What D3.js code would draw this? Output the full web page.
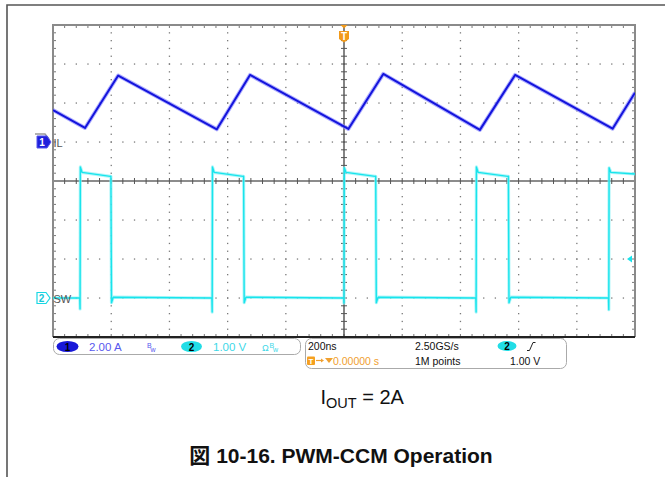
<!DOCTYPE html>
<html><head><meta charset="utf-8">
<script src="https://cdn.jsdelivr.net/npm/d3@7"></script>
<style>body{margin:0;background:#fff}svg{display:block}text{font-family:"Liberation Sans",Arial,"Noto Sans CJK JP",sans-serif}</style>
</head><body><svg id="c" width="665" height="477"></svg>
<script>
// ---- data (time in ns, trigger at 0; 200 ns/div) ----
const ilTime = [-1000, -890, -776, -437, -323, 15, 135, 467, 588, 923, 1000];
const ilAmps = [1.64, 0.72, 3.41, 0.65, 3.44, 0.67, 3.49, 0.62, 3.44, 0.68, 2.53];
const swTime = [-1000, -908, -907, -906, -900, -803, -801, -799, -793,
                -454, -453, -452, -446, -347, -345, -343, -337,
                -1, 0, 1, 7, 107, 109, 111, 117,
                453, 454, 455, 461, 563, 565, 567, 573,
                909, 910, 911, 917, 1000];
const swVolts = [0.0, 0.0, -0.28, 3.36, 3.22, 3.12, 3.12, -0.12, 0.02,
                 0.0, -0.36, 3.36, 3.22, 3.12, 3.12, -0.12, 0.02,
                 0.0, -0.13, 3.34, 3.22, 3.12, 3.12, -0.12, 0.02,
                 0.0, -0.36, 3.36, 3.22, 3.12, 3.12, -0.12, 0.02,
                 0.0, -0.3, 3.34, 3.22, 3.18];
const ch1Label = ["1", "2.00 A"];
const ch2Label = ["2", "1.00 V"];
const horizLabels = ["200ns", "2.50GS/s", "1M points", "1.00 V", "0.00000 s"];
const traceNames = ["IL", "SW"];

const svg = d3.select("#c");
const L = 53, R = 635, T = 25, B = 337;
const gx = d3.scaleLinear([0, 10], [L, R]);
const gy = d3.scaleLinear([0, 8], [T, B]);
const x = d3.scaleLinear([-1000, 1000], [L, R]);
const yIL = d3.scaleLinear([-10, 6], [B, T]);   // 2 A/div, ground at 3rd division
const ySW = d3.scaleLinear([-1, 7], [B, T]);    // 1 V/div, ground at 7th division

// page frame
svg.append("path").attr("d", "M7,477V5H665").attr("fill", "none").attr("stroke", "#555").attr("stroke-width", 1.6);

// graticule dots
const g = svg.append("g");
const minorX = d3.range(0, 50.001, 1).map(d => d / 5);
const minorY = d3.range(0, 40.001, 1).map(d => d / 5);
for (let i = 1; i < 10; i++) {
  if (i === 5) continue;
  minorY.forEach(v => g.append("rect").attr("x", gx(i) - 0.6).attr("y", gy(v) - 0.6).attr("width", 1.3).attr("height", 1.3).attr("fill", "#7a7a7a"));
}
for (let j = 1; j < 8; j++) {
  if (j === 4) continue;
  minorX.forEach(v => g.append("rect").attr("x", gx(v) - 0.6).attr("y", gy(j) - 0.6).attr("width", 1.3).attr("height", 1.3).attr("fill", "#7a7a7a"));
}
// edge ticks
minorX.forEach(v => {
  g.append("line").attr("x1", gx(v)).attr("x2", gx(v)).attr("y1", T).attr("y2", T + 3).attr("stroke", "#777");
  g.append("line").attr("x1", gx(v)).attr("x2", gx(v)).attr("y1", B - 3).attr("y2", B).attr("stroke", "#777");
});
minorY.forEach(v => {
  g.append("line").attr("x1", L).attr("x2", L + 3).attr("y1", gy(v)).attr("y2", gy(v)).attr("stroke", "#777");
  g.append("line").attr("x1", R - 3).attr("x2", R).attr("y1", gy(v)).attr("y2", gy(v)).attr("stroke", "#777");
});
// center lines
g.append("line").attr("x1", L).attr("x2", R).attr("y1", gy(4)).attr("y2", gy(4)).attr("stroke", "#8c8c8c").attr("stroke-width", 2);
minorX.forEach(v => g.append("line").attr("x1", gx(v)).attr("x2", gx(v)).attr("y1", gy(4) - 3).attr("y2", gy(4) + 3).attr("stroke", "#555"));
g.append("line").attr("x1", gx(5)).attr("x2", gx(5)).attr("y1", T).attr("y2", B).attr("stroke", "#333").attr("stroke-width", 1.2);
minorY.forEach(v => g.append("line").attr("x1", gx(5) - 3).attr("x2", gx(5) + 3).attr("y1", gy(v)).attr("y2", gy(v)).attr("stroke", "#555"));
// border
g.append("path").attr("d", `M${L},${B}V${T}H${R}V${B}`).attr("fill", "none").attr("stroke", "#8a8a8a").attr("stroke-width", 2);
g.append("line").attr("x1", L).attr("x2", R).attr("y1", B).attr("y2", B).attr("stroke", "#222").attr("stroke-width", 2);
g.append("line").attr("x1", 330).attr("x2", 564).attr("y1", B + 2).attr("y2", B + 2).attr("stroke", "#bbb").attr("stroke-width", 1.5);

// traces
svg.append("clipPath").attr("id", "clp").append("rect").attr("x", L).attr("y", T).attr("width", R - L).attr("height", B - T);
const tr = svg.append("g").attr("clip-path", "url(#clp)");
const swLine = d3.line().x((d, i) => x(swTime[i])).y(d => ySW(d));
tr.append("path").attr("d", swLine(swVolts)).attr("fill", "none").attr("stroke", "#8ff2f6").attr("stroke-width", 3.2).attr("stroke-opacity", 0.7).attr("stroke-linejoin", "round");
tr.append("path").attr("d", swLine(swVolts)).attr("fill", "none").attr("stroke", "#18e4ec").attr("stroke-width", 1.4).attr("stroke-linejoin", "round");
const ilLine = d3.line().x((d, i) => x(ilTime[i])).y(d => yIL(d));
tr.append("path").attr("d", ilLine(ilAmps)).attr("fill", "none").attr("stroke", "#8c8cff").attr("stroke-width", 4).attr("stroke-opacity", 0.7).attr("stroke-linejoin", "round");
tr.append("path").attr("d", ilLine(ilAmps)).attr("fill", "none").attr("stroke", "#1414dc").attr("stroke-width", 2).attr("stroke-linejoin", "round");

// trigger marker (top)
const tx = x(0);
svg.append("path").attr("d", `M${tx - 3.5},${T}h7l-3.5,3.5z`).attr("fill", "#f29a1a");
svg.append("path").attr("d", `M${tx - 5},31h10v8l-5,3.5l-5,-3.5z`).attr("fill", "#f29a1a");
svg.append("text").attr("x", tx).attr("y", 40).attr("text-anchor", "middle").attr("font-size", 10).attr("font-weight", "bold").attr("fill", "#fff").text("T");
// trigger level arrow (right)
svg.append("path").attr("d", `M${R - 8},${ySW(1)}l5,-3.5v7z`).attr("fill", "#18e4ec");

// channel markers
const c1y = yIL(0);
svg.append("path").attr("d", `M35,${c1y - 8}h10l4,5`).attr("fill", "none").attr("stroke", "#999").attr("stroke-width", 1.5);
svg.append("path").attr("d", `M37,${c1y - 6}h10l4,6l-4,6h-10z`).attr("fill", "#2020dc").attr("stroke", "#5555ee");
svg.append("text").attr("x", 42).attr("y", c1y + 4).attr("text-anchor", "middle").attr("font-size", 10).attr("font-weight", "bold").attr("fill", "#fff").text("1");
svg.append("text").attr("x", 53.5).attr("y", c1y + 4.5).attr("font-size", 11).attr("fill", "#555").text(traceNames[0]);
const c2y = ySW(0);
svg.append("path").attr("d", `M37,${c2y - 5.5}h9l4,5.5l-4,5.5h-9z`).attr("fill", "#fff").attr("stroke", "#18d8e4").attr("stroke-width", 1.2);
svg.append("text").attr("x", 41.5).attr("y", c2y + 4).attr("text-anchor", "middle").attr("font-size", 10).attr("font-weight", "bold").attr("fill", "#18c8d8").text("2");
svg.append("text").attr("x", 53.5).attr("y", c2y + 4.5).attr("font-size", 11).attr("fill", "#555").text(traceNames[1]);

// status bar box 1
svg.append("rect").attr("x", 53.5).attr("y", 338.5).attr("width", 247).attr("height", 16).attr("rx", 6).attr("fill", "#fff").attr("stroke", "#aaa");
svg.append("ellipse").attr("cx", 67.5).attr("cy", 346.5).attr("rx", 11).attr("ry", 5.5).attr("fill", "#1818d8");
svg.append("text").attr("x", 67.5).attr("y", 350.5).attr("text-anchor", "middle").attr("font-size", 10).attr("font-weight", "bold").attr("fill", "#000").text(ch1Label[0]);
svg.append("text").attr("x", 89).attr("y", 351).attr("font-size", 11.5).attr("fill", "#5858ee").text(ch1Label[1]);
svg.append("text").attr("x", 147).attr("y", 347.5).attr("font-size", 7).attr("fill", "#5858ee").text("B");
svg.append("text").attr("x", 150.5).attr("y", 352).attr("font-size", 7).attr("fill", "#5858ee").text("w");
svg.append("ellipse").attr("cx", 191.5).attr("cy", 346.5).attr("rx", 10.5).attr("ry", 5.5).attr("fill", "#22dde6");
svg.append("text").attr("x", 191.5).attr("y", 350.5).attr("text-anchor", "middle").attr("font-size", 10).attr("font-weight", "bold").attr("fill", "#000").text(ch2Label[0]);
svg.append("text").attr("x", 213).attr("y", 351).attr("font-size", 11.5).attr("fill", "#40d8e8").text(ch2Label[1]);
svg.append("text").attr("x", 262).attr("y", 350.5).attr("font-size", 9).attr("fill", "#40d8e8").text("Ω");
svg.append("text").attr("x", 269.5).attr("y", 347.5).attr("font-size", 7).attr("fill", "#40d8e8").text("B");
svg.append("text").attr("x", 273).attr("y", 352).attr("font-size", 7).attr("fill", "#40d8e8").text("w");

// status bar box 2
svg.append("rect").attr("x", 305.5).attr("y", 338.5).attr("width", 261).attr("height", 30).attr("rx", 6).attr("fill", "#fff").attr("stroke", "#aaa");
svg.append("text").attr("x", 308).attr("y", 349.5).attr("font-size", 10.5).attr("fill", "#111").text(horizLabels[0]);
svg.append("text").attr("x", 415).attr("y", 349.5).attr("font-size", 10.5).attr("fill", "#111").text(horizLabels[1]);
svg.append("ellipse").attr("cx", 507).attr("cy", 346).attr("rx", 9.5).attr("ry", 5).attr("fill", "#22dde6");
svg.append("text").attr("x", 507).attr("y", 350).attr("text-anchor", "middle").attr("font-size", 10).attr("font-weight", "bold").attr("fill", "#000").text("2");
svg.append("path").attr("d", "M527,350.5h2.5l3.5,-8h2.5").attr("fill", "none").attr("stroke", "#222").attr("stroke-width", 1);
svg.append("rect").attr("x", 307).attr("y", 356.5).attr("width", 8).attr("height", 8.5).attr("rx", 1).attr("fill", "#f5a020");
svg.append("text").attr("x", 311).attr("y", 364).attr("text-anchor", "middle").attr("font-size", 8).attr("font-weight", "bold").attr("fill", "#fff").text("T");
svg.append("path").attr("d", "M316,360.5h6").attr("stroke", "#f0a030").attr("stroke-width", 1.2);
svg.append("path").attr("d", "M321,358.5l3,2l-3,2z").attr("fill", "#f0a030");
svg.append("path").attr("d", "M325,358h8l-4,5z").attr("fill", "#f0a030");
svg.append("text").attr("x", 333).attr("y", 364.5).attr("font-size", 10.5).attr("fill", "#f0a030").text(horizLabels[4]);
svg.append("text").attr("x", 415).attr("y", 364.5).attr("font-size", 10.5).attr("fill", "#111").text(horizLabels[2]);
svg.append("text").attr("x", 510).attr("y", 364.5).attr("font-size", 10.5).attr("fill", "#111").text(horizLabels[3]);

// captions
const io = svg.append("text").attr("x", 320.5).attr("y", 403.5).attr("font-size", 20).attr("fill", "#111");
io.append("tspan").text("I");
io.append("tspan").attr("font-size", 14.5).attr("dy", 4).text("OUT");
io.append("tspan").attr("dy", -4).text(" = 2A");
svg.append("text").attr("x", 341).attr("y", 462.5).attr("text-anchor", "middle").attr("font-size", 21).attr("font-weight", "bold").attr("fill", "#111").text("図 10-16. PWM-CCM Operation");
</script></body></html>
